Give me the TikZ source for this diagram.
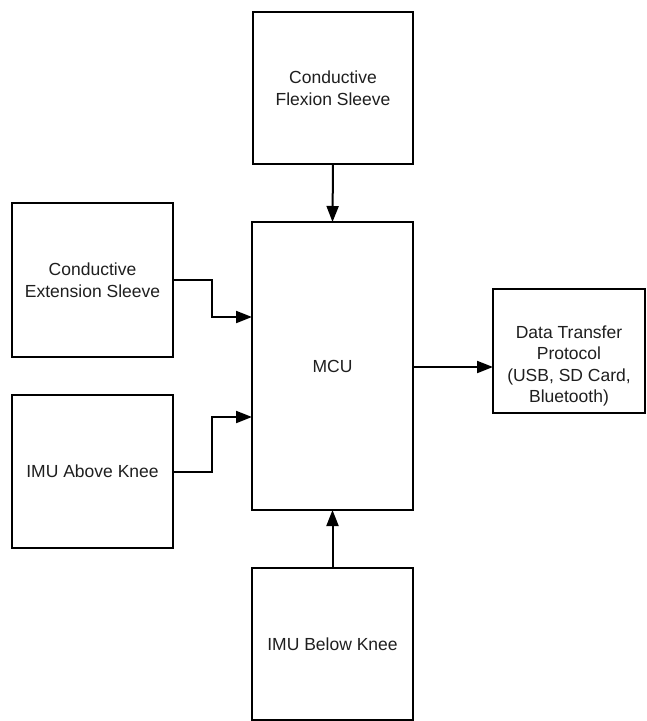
\documentclass[tikz,border=0pt]{standalone}
\usepackage{fontspec}
\setmainfont{Liberation Sans}
\usetikzlibrary{arrows.meta}
\begin{document}
\begin{tikzpicture}[x={(1pt,0)}, y={(0,-1pt)},
  block/.style={draw=black, line width=2pt, fill=white, inner sep=0pt, outer sep=0pt},
  label text/.style={align=center, text=black!88, font=\fontsize{17.5}{21.5}\selectfont},
  link/.style={draw=black, line width=2pt, -{Triangle[length=16pt,width=12pt]}}]
  \useasboundingbox (0,0) rectangle (647,721);

  % blocks
  \node[block, minimum width=160pt, minimum height=152pt] (flex) at (333,88) {};
  \node[block, minimum width=161pt, minimum height=288pt] (mcu)  at (332.5,366) {};
  \node[block, minimum width=161pt, minimum height=154pt] (ext)  at (92.5,280) {};
  \node[block, minimum width=161pt, minimum height=153pt] (imua) at (92.5,471.5) {};
  \node[block, minimum width=152pt, minimum height=124pt] (data) at (569,351) {};
  \node[block, minimum width=161pt, minimum height=152pt] (imub) at (332.5,644) {};

  % block captions
  \node[label text] (flext) at (flex) {Conductive\\Flexion Sleeve};
  \node[label text] (mcut)  at (mcu)  {MCU};
  \node[label text] (extt)  at (ext)  {Conductive\\Extension Sleeve};
  \node[label text] (imuat) at (imua) {IMU Above Knee};
  \node[label text] (datat) at (569,366) {Data Transfer\\Protocol\\(USB, SD Card,\\Bluetooth)};
  \node[label text] (imubt) at (imub) {IMU Below Knee};

  % connectors
  \draw[link] (flex.south) -- (mcu.north);
  \draw[link] (imub.north) -- (mcu.south);
  \draw[link] (ext.east) -- ++(39,0) |- (mcu.west |- 0,317);
  \draw[link] (imua.east) -- ++(39,0) |- (mcu.west |- 0,417);
  \draw[link] (mcu.east |- 0,367) -- (data.west |- 0,367);
\end{tikzpicture}
\end{document}
